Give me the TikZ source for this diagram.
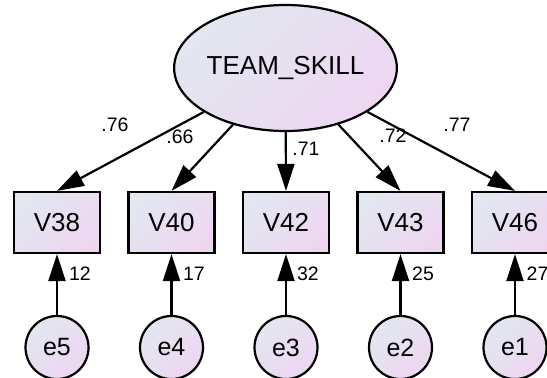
\documentclass[tikz,border=0pt]{standalone}
\usepackage{fontspec}
\setmainfont{Liberation Sans}
\usetikzlibrary{shapes.geometric,arrows.meta}

\definecolor{skA}{HTML}{E2E7F0}
\definecolor{skB}{HTML}{EED6F1}

\tikzset{
  grad/.style={top color=skA, bottom color=skB, shading angle=45},
  latent/.style={ellipse, draw, line width=2.2pt, grad, inner sep=0pt,
    minimum width=175pt, minimum height=126pt, font=\fontsize{26}{26}\selectfont},
  observed/.style={rectangle, draw, line width=2.2pt, grad, inner sep=0pt,
    minimum width=86pt, minimum height=61pt, font=\fontsize{26}{26}\selectfont},
  errvar/.style={circle, draw, line width=2.2pt, grad, inner sep=0pt,
    minimum size=63pt, font=\fontsize{25}{25}\selectfont},
  path/.style={line width=2.2pt, -{Triangle[length=27pt,width=17pt]}},
  coef/.style={inner sep=0pt, font=\fontsize{19.5}{19.5}\selectfont}
}

\begin{document}
\begin{tikzpicture}[x=1pt,y=-1pt]
  \useasboundingbox (0,0) rectangle (547,378);
  \begin{scope}
  \clip (0,0) rectangle (547,378);

  % latent factor
  \node[latent] (T) at (285.5,68) {TEAM\_SKILL};

  % indicators
  \node[observed] (V38) at (57,222.5) {V38};
  \node[observed] (V40) at (171.5,222.5) {V40};
  \node[observed] (V42) at (286,222.5) {V42};
  \node[observed] (V43) at (400.5,222.5) {V43};
  \node[observed] (V46) at (515,222.5) {V46};

  % error terms
  \node[errvar] (e5) at (57,347.5) {e5};
  \node[errvar] (e4) at (171.5,347.5) {e4};
  \node[errvar] (e3) at (286,347.5) {e3};
  \node[errvar] (e2) at (400.5,347.5) {e2};
  \node[errvar] (e1) at (515,347.5) {e1};

  % factor loadings
  \foreach \v in {V38,V40,V42,V43,V46}
    \draw[path] (T) -- (\v.north);

  % error paths
  \draw[path] (e5) -- (V38.south);
  \draw[path] (e4) -- (V40.south);
  \draw[path] (e3) -- (V42.south);
  \draw[path] (e2) -- (V43.south);
  \draw[path] (e1) -- (V46.south);

  % standardized estimates
  \node[coef] (l38) at (115,125) {.76};
  \node[coef] (l40) at (180,136.5) {.66};
  \node[coef] (l42) at (306,148.5) {.71};
  \node[coef] (l43) at (393,136) {.72};
  \node[coef] (l46) at (457,125) {.77};

  % squared multiple correlations
  \node[coef] (r38) at (80,274) {12};
  \node[coef] (r40) at (194,274) {17};
  \node[coef] (r42) at (308,274) {32};
  \node[coef] (r43) at (423,274) {25};
  \node[coef] (r46) at (537.5,274) {27};
  \end{scope}
\end{tikzpicture}
\end{document}
